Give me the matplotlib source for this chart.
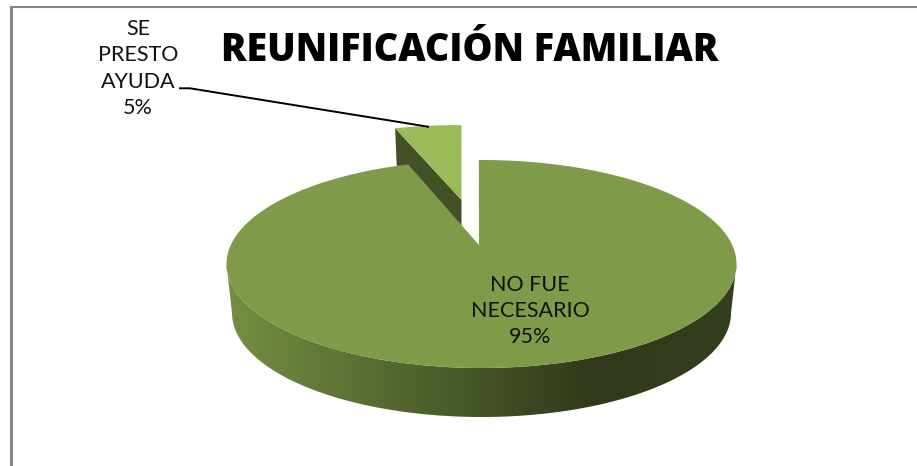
import numpy as np
import matplotlib
matplotlib.use("Agg")
import matplotlib.pyplot as plt
from matplotlib.colors import LinearSegmentedColormap
from matplotlib.patches import Polygon

categories = ["NO FUE\nNECESARIO", "SE\nPRESTO\nAYUDA"]
values = [95, 5]
title = "REUNIFICACIÓN FAMILIAR"

W, H = 917, 466
fig = plt.figure(figsize=(W / 100, H / 100), dpi=100)
ax = fig.add_axes([0, 0, 1, 1])
ax.set_xlim(0, W)
ax.set_ylim(H, 0)
ax.axis("off")

fracs = np.array(values) / sum(values)


def ellipse(phi, cx, cy, rx, ry):
    # phi clockwise from 12 o'clock
    return cx + rx * np.sin(phi), cy - ry * np.cos(phi)


TOP = dict(cx=481.5, cy=264, rx=255, ry=104)
LOW = dict(cx=481.5, cy=313, rx=249.5, ry=104)
APEX = (479, 245)

# side wall with horizontal gradient, clipped to the outline
tw = np.linspace(np.pi / 2, 3 * np.pi / 2, 300)
ux, uy = ellipse(tw, **TOP)
lx, ly = ellipse(tw, **LOW)
wall_poly = np.r_[np.c_[ux, uy], np.c_[lx, ly][::-1]]
cmap = LinearSegmentedColormap.from_list("wall", ["#303a1a", "#758e43"])
grad = np.interp(np.linspace(227, 736, 510), [227, 590, 736], [1, 0, 0.06])[None, :]
im = ax.imshow(grad, extent=[226, 737, 420, 255], cmap=cmap, vmin=0, vmax=1, aspect="auto", zorder=1)
clip = Polygon(wall_poly, transform=ax.transData, facecolor="none", edgecolor="none")
ax.add_patch(clip)
im.set_clip_path(clip)
ax.set_xlim(0, W)
ax.set_ylim(H, 0)

# top of main slice: clockwise from 12 o'clock
t_main = np.linspace(np.radians(-0.6), 2 * np.pi * fracs[0] + np.radians(1.3), 500)
mx, my = ellipse(t_main, **TOP)
ax.add_patch(Polygon(np.r_[[APEX], np.c_[mx, my]], closed=True,
                     facecolor="#7f9a48", edgecolor="none", zorder=3))

# exploded small slice: wall then face
K = 0.1827
t_small = np.linspace(2 * np.pi * fracs[0], 2 * np.pi, 40)
w = 1 + K * np.cos(t_small)
ox, oy = 461.5, 200
face = np.c_[ox + 252 * np.sin(t_small) / w, oy - 88.6 * np.cos(t_small) / w]
ax.add_patch(Polygon([face[0], (face[0][0] + 1.5, face[0][1] + 37), (ox, oy + 28), (ox, oy)],
                     closed=True, facecolor="#434f24", edgecolor="none", zorder=2))
ax.add_patch(Polygon(np.r_[[[ox, oy]], face], closed=True, facecolor="#9bbb59",
                     edgecolor="none", zorder=2.5))

# leader line
ax.plot([180, 190, 428], [88.3, 88.3, 126.7], color="black", lw=1.4, zorder=4)

# frame
ax.plot([10, W], [7, 7], color="#868686", lw=1.5, solid_capstyle="butt", zorder=5)
ax.plot([10.5, 10.5], [6, H], color="#868686", lw=2.2, solid_capstyle="butt", zorder=5)

ax.text(470, 61, title, ha="center", va="baseline", fontsize=27.2, fontweight="heavy",
        family="Open Sans", color="black", zorder=6)
ax.text(138, 68.5, f"{categories[1]}\n{values[1]}%", ha="center", va="center", fontsize=15.5,
        family="Lato", linespacing=1.38, color="#111111", zorder=6)
ax.text(530, 311, f"{categories[0]}\n{values[0]}%", ha="center", va="center", fontsize=15.5,
        family="Lato", linespacing=1.38, color="#111111", zorder=6)

fig.savefig("out.png", dpi=100, facecolor="white")
